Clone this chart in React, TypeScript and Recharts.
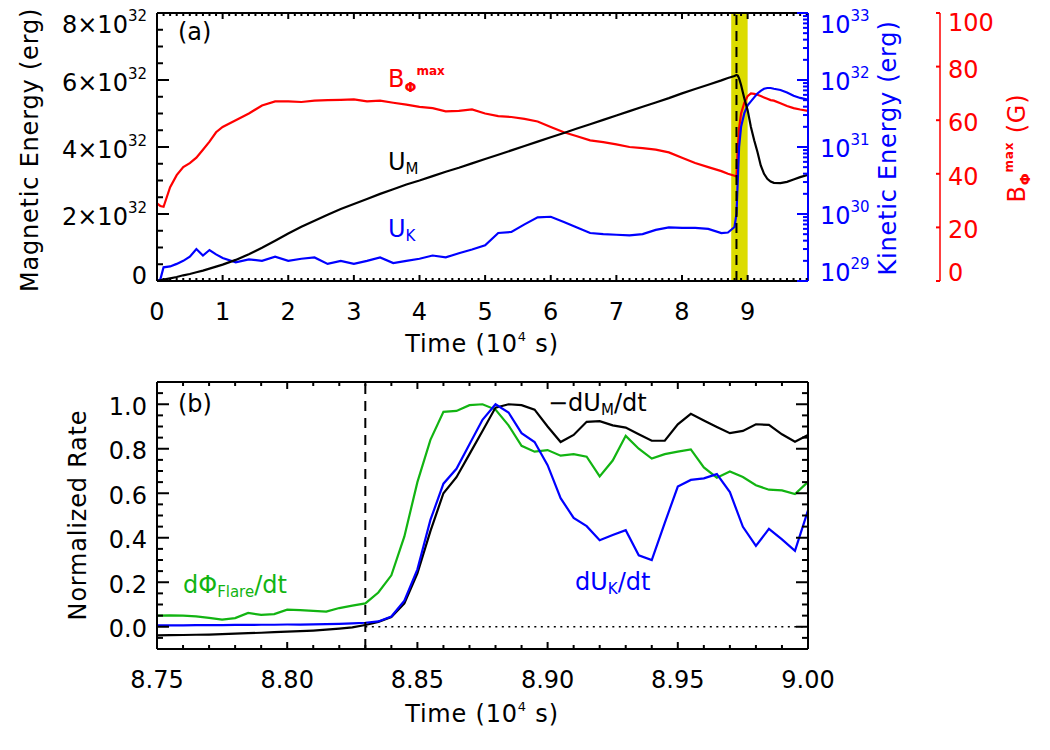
import React from 'react';
import {
  ComposedChart,
  LineChart,
  Line,
  XAxis,
  YAxis,
  ReferenceLine,
  ReferenceArea,
} from 'recharts';

const FONT = '"DejaVu Sans", Verdana, sans-serif';
const FS = 24;
const RED = '#ff0000';
const BLUE = '#0000ff';
const GREEN = '#12b412';
const BAND = '#dcdc00';

// ---------- panel (a): energies over the whole run (time in 10^4 s) ----------
const timeA = [
  0, 0.05, 0.1, 0.2, 0.3, 0.4, 0.5, 0.6, 0.7, 0.8, 0.9, 1.0, 1.2, 1.4, 1.6, 1.8,
  2.0, 2.2, 2.4, 2.6, 2.8, 3.0, 3.2, 3.4, 3.6, 3.8, 4.0, 4.2, 4.4, 4.6, 4.8, 5.0,
  5.2, 5.4, 5.6, 5.8, 6.0, 6.2, 6.4, 6.6, 6.8, 7.0, 7.2, 7.4, 7.6, 7.8, 8.0, 8.2,
  8.4, 8.6, 8.7, 8.8, 8.83, 8.85, 8.87, 8.9, 8.95, 9.0, 9.05, 9.1, 9.15, 9.2,
  9.25, 9.3, 9.35, 9.4, 9.5, 9.6, 9.7, 9.8, 9.92,
];

// magnetic energy U_M in units of 10^32 erg
const magneticEnergy = [
  0, 0.02, 0.04, 0.08, 0.12, 0.17, 0.21, 0.26, 0.31, 0.37, 0.43, 0.49, 0.63, 0.8, 0.99, 1.2,
  1.42, 1.62, 1.8, 1.98, 2.15, 2.3, 2.45, 2.6, 2.74, 2.88, 3.0, 3.13, 3.26, 3.38, 3.51, 3.64,
  3.77, 3.9, 4.03, 4.16, 4.29, 4.42, 4.55, 4.68, 4.81, 4.94, 5.07, 5.2, 5.33, 5.46, 5.6, 5.73,
  5.86, 5.99, 6.06, 6.12, 6.15, 6.13, 6.05, 5.85, 5.45, 5.1, 4.6, 4.2, 3.85, 3.45,
  3.2, 3.05, 2.97, 2.93, 2.92, 2.96, 3.03, 3.1, 3.17,
];

// kinetic energy U_K in erg
const kineticEnergy = [
  1.0e29, 1.05e29, 1.6e29, 1.65e29, 1.8e29, 2.0e29, 2.3e29, 3.0e29, 2.4e29, 2.9e29, 2.5e29, 2.2e29, 1.9e29, 2.1e29, 2.0e29, 2.3e29,
  2.0e29, 2.15e29, 2.25e29, 1.8e29, 2.0e29, 1.8e29, 2.0e29, 2.25e29, 1.85e29, 2.0e29, 2.15e29, 2.4e29, 2.25e29, 2.6e29, 2.95e29, 3.4e29,
  5.2e29, 5.4e29, 7.0e29, 8.9e29, 9.1e29, 7.6e29, 6.3e29, 5.2e29, 5.0e29, 4.9e29, 4.8e29, 5.0e29, 5.8e29, 6.3e29, 6.2e29, 6.2e29,
  6.0e29, 5.2e29, 5.3e29, 6.4e29, 1.0e30, 3.2e30, 1.0e31, 2.0e31, 3.2e31, 4.2e31, 4.8e31, 5.5e31, 6.3e31, 6.9e31,
  7.4e31, 7.6e31, 7.6e31, 7.4e31, 7.1e31, 6.5e31, 5.8e31, 5.4e31, 5.1e31,
];

// peak toroidal field B_phi^max in G
const bPhiMax = [
  29, 28, 27.7, 35, 39.5, 42.5, 44, 46, 49, 52, 55.5, 57.5, 60, 62.5, 65.5, 67,
  67, 66.8, 67.3, 67.5, 67.6, 67.8, 67, 67.3, 66.5, 65.8, 65, 64.5, 63.3, 63.5, 64, 62.5,
  61.5, 61.2, 60.5, 59.5, 57.5, 55.5, 54, 52.5, 51.8, 51, 50, 49.6, 49, 48, 46, 44,
  42.5, 41, 40, 39.3, 39, 50, 57, 62.5, 66.5, 69, 70, 69.8, 69.5, 69,
  68.5, 68, 67.5, 67.3, 66.3, 65.3, 64.5, 64, 63.5,
];

// ---------- panel (b): normalized rates around the flare ----------
const timeB = [
  8.75, 8.755, 8.76, 8.765, 8.77, 8.775, 8.78, 8.785, 8.79, 8.795,
  8.8, 8.805, 8.81, 8.815, 8.82, 8.825, 8.83, 8.835, 8.84, 8.845,
  8.85, 8.855, 8.86, 8.865, 8.87, 8.875, 8.88, 8.885, 8.89, 8.895,
  8.9, 8.905, 8.91, 8.915, 8.92, 8.925, 8.93, 8.935, 8.94, 8.945,
  8.95, 8.955, 8.96, 8.965, 8.97, 8.975, 8.98, 8.985, 8.99, 8.995, 9.0,
];

const fluxRate = [
  0.05, 0.051, 0.05, 0.047, 0.04, 0.032, 0.039, 0.062, 0.053, 0.057,
  0.077, 0.075, 0.071, 0.068, 0.084, 0.095, 0.105, 0.154, 0.231, 0.406,
  0.65, 0.84, 0.966, 0.97, 0.996, 1.0, 0.976, 0.905, 0.813, 0.787,
  0.794, 0.769, 0.776, 0.764, 0.676, 0.747, 0.858, 0.8, 0.756, 0.776,
  0.787, 0.797, 0.716, 0.67, 0.698, 0.673, 0.636, 0.616, 0.613, 0.596, 0.651,
];

const kineticRate = [
  0.006, 0.006, 0.006, 0.007, 0.007, 0.007, 0.008, 0.008, 0.009, 0.009,
  0.01, 0.01, 0.011, 0.012, 0.013, 0.015, 0.018, 0.024, 0.046, 0.117,
  0.258, 0.48, 0.643, 0.71, 0.82, 0.93, 1.0, 0.963, 0.87, 0.83,
  0.726, 0.578, 0.489, 0.452, 0.389, 0.412, 0.434, 0.321, 0.3, 0.467,
  0.63, 0.66, 0.667, 0.686, 0.605, 0.449, 0.363, 0.44, 0.393, 0.341, 0.523,
];

const magneticRate = [
  -0.039, -0.038, -0.037, -0.036, -0.035, -0.033, -0.031, -0.029, -0.027, -0.024,
  -0.022, -0.02, -0.017, -0.013, -0.008, -0.003, 0.008, 0.022, 0.044, 0.105,
  0.24, 0.43, 0.6, 0.672, 0.776, 0.88, 0.985, 1.0, 0.996, 0.976,
  0.9, 0.83, 0.862, 0.921, 0.924, 0.905, 0.895, 0.865, 0.836, 0.836,
  0.91, 0.957, 0.927, 0.898, 0.87, 0.88, 0.91, 0.907, 0.865, 0.832, 0.862,
];

const flareOnset = 8.83;
const zoomStart = 8.75;
const zoomEnd = 9.0;

// axis ranges and tick labels
const timeDomainA: [number, number] = [0, 9.92];
const timeDomainB: [number, number] = [8.75, 9.0];
const magDomain: [number, number] = [0, 8];
const keDomain: [number, number] = [1e29, 1e33];
const bDomain: [number, number] = [0, 100];
const rateDomain: [number, number] = [-0.1, 1.1];
const keExponents = [29, 30, 31, 32, 33];
const bTicks = [0, 20, 40, 60, 80, 100];
const rateLabels = ['0.0', '0.2', '0.4', '0.6', '0.8', '1.0'];
const timeLabelsB = ['8.75', '8.80', '8.85', '8.90', '8.95', '9.00'];

const dataA = timeA.map((t, i) => ({
  t,
  um: magneticEnergy[i],
  uk: kineticEnergy[i],
  b: bPhiMax[i],
}));

const dataB = timeB.map((t, i) => ({
  t,
  flux: fluxRate[i],
  kin: kineticRate[i],
  mag: magneticRate[i],
}));

// tick position helpers
function steps(start: number, stop: number, step: number): number[] {
  const out: number[] = [];
  const n = Math.round((stop - start) / step);
  for (let i = 0; i <= n; i++) out.push(+(start + i * step).toFixed(6));
  return out;
}
const onGrid = (v: number, every: number, origin = 0) => {
  const q = (v - origin) / every;
  return Math.abs(q - Math.round(q)) < 1e-6;
};

const timeTicksA = steps(0, 9.9, 0.1);
const magTicks = steps(0, 8, 0.5);
const keTicks: number[] = [];
keExponents.forEach((e) => {
  if (e === 33) {
    keTicks.push(1e33);
    return;
  }
  for (let m = 1; m <= 9; m++) keTicks.push(+(m * Math.pow(10, e)).toPrecision(3));
});
const timeTicksB = steps(8.75, 9.0, 0.01);
const rateTicks = steps(-0.05, 1.05, 0.05);

const txt = (color = '#000') => ({ fontFamily: FONT, fontSize: FS, fill: color });
const title = (color = '#000') => ({ ...txt(color), letterSpacing: 0.8 });

// short inward tick mark
const mark = (x1: number, y1: number, x2: number, y2: number, color = '#000') => (
  <path d={`M${x1},${y1}L${x2},${y2}`} stroke={color} strokeWidth={2} fill="none" />
);

// ---------- tick renderers (IDL-style inward ticks) ----------
function MagTick(props: any) {
  const x = Number(props.x);
  const y = Number(props.y);
  const v = Number(props.payload.value);
  const major = onGrid(v, 2);
  const shift = v >= magDomain[1] ? 19.5 : v <= magDomain[0] ? 2.5 : 11;
  return (
    <g>
      {mark(x, y, x + (major ? 12 : 6), y)}
      {major && (
        <text x={x - 10} y={y + shift} textAnchor="end" {...txt()}>
          {v === 0 ? (
            '0'
          ) : (
            <>
              {`${v}×10`}
              <tspan dy={-12} fontSize={15}>32</tspan>
            </>
          )}
        </text>
      )}
    </g>
  );
}

function KeTick(props: any) {
  const x = Number(props.x);
  const y = Number(props.y);
  const v = Number(props.payload.value);
  const e = Math.log10(v);
  const major = Math.abs(e - Math.round(e)) < 1e-6;
  const exp = Math.round(e);
  const shift = exp >= 33 ? 19.5 : exp <= 29 ? 0 : 9.5;
  return (
    <g>
      {mark(x, y, x - (major ? 11 : 5), y, BLUE)}
      {major && (
        <text x={x + 12} y={y + shift} textAnchor="start" {...txt(BLUE)}>
          10
          <tspan dy={-12} fontSize={15}>{exp}</tspan>
        </text>
      )}
    </g>
  );
}

function BTick(props: any) {
  const x = Number(props.x);
  const y = Number(props.y);
  const v = Number(props.payload.value);
  const shift = v >= bDomain[1] ? 17.5 : v <= bDomain[0] ? 0 : 11;
  return (
    <g>
      {mark(x, y, x - 4, y, RED)}
      <text x={x + 8} y={y + shift} textAnchor="start" {...txt(RED)}>
        {String(v)}
      </text>
    </g>
  );
}

function TimeTickA(props: any) {
  const x = Number(props.x);
  const y = Number(props.y);
  const v = Number(props.payload.value);
  const major = onGrid(v, 1);
  return (
    <g>
      {mark(x, y, x, y - (major ? 6 : 3))}
      {major && (
        <text x={x} y={y + 39} textAnchor="middle" {...txt()}>
          {String(Math.round(v))}
        </text>
      )}
    </g>
  );
}

function TopTickA(props: any) {
  const x = Number(props.x);
  const y = Number(props.y);
  const major = onGrid(Number(props.payload.value), 1);
  return <g>{mark(x, y, x, y + (major ? 6 : 3))}</g>;
}

function RateTick(props: any) {
  const x = Number(props.x);
  const y = Number(props.y);
  const v = Number(props.payload.value);
  const major = onGrid(v, 0.2);
  const idx = Math.round(v / 0.2);
  return (
    <g>
      {mark(x, y, x + (major ? 12 : 6), y)}
      {major && idx >= 0 && idx < rateLabels.length && (
        <text x={x - 10} y={y + 10.5} textAnchor="end" {...txt()}>
          {rateLabels[idx]}
        </text>
      )}
    </g>
  );
}

function RateMirrorTick(props: any) {
  const x = Number(props.x);
  const y = Number(props.y);
  const major = onGrid(Number(props.payload.value), 0.2);
  return <g>{mark(x, y, x - (major ? 12 : 6), y)}</g>;
}

function TimeTickB(props: any) {
  const x = Number(props.x);
  const y = Number(props.y);
  const v = Number(props.payload.value);
  const major = onGrid(v, 0.05, 8.75);
  const idx = Math.round((v - 8.75) / 0.05);
  return (
    <g>
      {mark(x, y, x, y - (major ? 7 : 4))}
      {major && (
        <text x={x} y={y + 39} textAnchor="middle" {...txt()}>
          {timeLabelsB[idx]}
        </text>
      )}
    </g>
  );
}

function TopTickB(props: any) {
  const x = Number(props.x);
  const y = Number(props.y);
  const major = onGrid(Number(props.payload.value), 0.05, 8.75);
  return <g>{mark(x, y, x, y + (major ? 7 : 4))}</g>;
}

const frame = { stroke: '#000', strokeWidth: 2 };

function PanelA() {
  return (
    <ComposedChart
      width={1050}
      height={360}
      data={dataA}
      margin={{ top: 12, right: 0, bottom: 0, left: 0 }}
    >
      <XAxis
        dataKey="t"
        type="number"
        domain={timeDomainA}
        allowDataOverflow
        ticks={timeTicksA}
        interval={0}
        height={79}
        tickSize={0}
        tickMargin={0}
        tickLine={false}
        axisLine={frame}
        tick={TimeTickA}
      />
      <XAxis
        xAxisId="top"
        dataKey="t"
        orientation="top"
        type="number"
        domain={timeDomainA}
        allowDataOverflow
        ticks={timeTicksA}
        interval={0}
        height={1}
        tickSize={0}
        tickMargin={0}
        tickLine={false}
        axisLine={frame}
        tick={TopTickA}
      />
      <YAxis
        yAxisId="mag"
        orientation="left"
        type="number"
        domain={magDomain}
        allowDataOverflow
        ticks={magTicks}
        interval={0}
        width={157}
        tickSize={0}
        tickMargin={0}
        tickLine={false}
        axisLine={frame}
        tick={MagTick}
      />
      <YAxis
        yAxisId="r1"
        orientation="right"
        type="number"
        scale="log"
        domain={keDomain}
        allowDataOverflow
        ticks={keTicks}
        interval={0}
        width={132}
        tickSize={0}
        tickMargin={0}
        tickLine={false}
        axisLine={{ stroke: BLUE, strokeWidth: 2 }}
        tick={KeTick}
      />
      <YAxis
        yAxisId="r2"
        orientation="right"
        type="number"
        domain={bDomain}
        allowDataOverflow
        ticks={bTicks}
        interval={0}
        width={110}
        tickSize={0}
        tickMargin={0}
        tickLine={false}
        axisLine={{ stroke: RED, strokeWidth: 1.5 }}
        tick={BTick}
      />
      <ReferenceArea
        yAxisId="mag"
        x1={zoomStart}
        x2={zoomEnd}
        fill={BAND}
        fillOpacity={1}
        stroke="none"
      />
      <Line yAxisId="r2" dataKey="b" stroke={RED} strokeWidth={2.2} dot={false} isAnimationActive={false} />
      <Line yAxisId="r1" dataKey="uk" stroke={BLUE} strokeWidth={2.2} dot={false} isAnimationActive={false} />
      <Line yAxisId="mag" dataKey="um" stroke="#000" strokeWidth={2.2} dot={false} isAnimationActive={false} />
      {/* carries the mirrored top axis; drawn invisibly under U_M */}
      <Line
        xAxisId="top"
        yAxisId="mag"
        dataKey="um"
        stroke="#000"
        strokeOpacity={0}
        dot={false}
        activeDot={false}
        isAnimationActive={false}
      />
      <ReferenceLine
        yAxisId="mag"
        x={flareOnset}
        stroke="#000"
        strokeWidth={2}
        strokeDasharray="10 6"
      />
    </ComposedChart>
  );
}

function PanelB() {
  return (
    <LineChart
      width={1050}
      height={390}
      data={dataB}
      margin={{ top: 21, right: 0, bottom: 0, left: 0 }}
    >
      <XAxis
        dataKey="t"
        type="number"
        domain={timeDomainB}
        allowDataOverflow
        ticks={timeTicksB}
        interval={0}
        height={101}
        tickSize={0}
        tickMargin={0}
        tickLine={false}
        axisLine={frame}
        tick={TimeTickB}
      />
      <XAxis
        xAxisId="top"
        dataKey="t"
        orientation="top"
        type="number"
        domain={timeDomainB}
        allowDataOverflow
        ticks={timeTicksB}
        interval={0}
        height={1}
        tickSize={0}
        tickMargin={0}
        tickLine={false}
        axisLine={frame}
        tick={TopTickB}
      />
      <YAxis
        type="number"
        domain={rateDomain}
        allowDataOverflow
        ticks={rateTicks}
        interval={0}
        width={157}
        tickSize={0}
        tickMargin={0}
        tickLine={false}
        axisLine={frame}
        tick={RateTick}
      />
      <YAxis
        yAxisId="mirror"
        orientation="right"
        type="number"
        domain={rateDomain}
        allowDataOverflow
        ticks={rateTicks}
        interval={0}
        width={242}
        tickSize={0}
        tickMargin={0}
        tickLine={false}
        axisLine={frame}
        tick={RateMirrorTick}
      />
      <ReferenceLine
        segment={[
          { x: flareOnset, y: 0 },
          { x: zoomEnd, y: 0 },
        ]}
        stroke="#000"
        strokeWidth={1.5}
        strokeDasharray="2 4.5"
      />
      <Line dataKey="flux" stroke={GREEN} strokeWidth={2.2} dot={false} isAnimationActive={false} />
      <Line dataKey="mag" stroke="#000" strokeWidth={2.2} dot={false} isAnimationActive={false} />
      <Line dataKey="kin" stroke={BLUE} strokeWidth={2.2} dot={false} isAnimationActive={false} />
      {/* carries the mirrored top and right axes; drawn invisibly */}
      <Line
        xAxisId="top"
        yAxisId="mirror"
        dataKey="mag"
        stroke="#000"
        strokeOpacity={0}
        dot={false}
        activeDot={false}
        isAnimationActive={false}
      />
      <ReferenceLine x={flareOnset} stroke="#000" strokeWidth={2} strokeDasharray="10 7" />
    </LineChart>
  );
}

function Annotations() {
  return (
    <svg
      width={1050}
      height={750}
      style={{ position: 'absolute', left: 0, top: 0, pointerEvents: 'none' }}
    >
      {/* panel (a) */}
      <text x={178} y={40} {...txt()}>(a)</text>
      <text x={388} y={87} {...txt(RED)}>
        B
        <tspan dy={5} fontSize={14} fontWeight="bold">Φ</tspan>
        <tspan dy={-17} fontSize={12} fontWeight="bold">max</tspan>
      </text>
      <text x={388} y={170} {...txt()}>
        U<tspan dy={4} fontSize={15}>M</tspan>
      </text>
      <text x={388} y={237} {...txt(BLUE)}>
        U<tspan dy={4} fontSize={15}>K</tspan>
      </text>
      <text x={38} y={150} textAnchor="middle" transform="rotate(-90 38 150)" {...title()}>
        Magnetic  Energy  (erg)
      </text>
      <text x={896} y={148} textAnchor="middle" transform="rotate(-90 896 148)" {...title(BLUE)}>
        Kinetic  Energy  (erg)
      </text>
      <text x={1025} y={148} textAnchor="middle" transform="rotate(-90 1025 148)" {...title(RED)}>
        B
        <tspan dy={5} fontSize={14} fontWeight="bold">Φ</tspan>
        <tspan dy={-17} fontSize={12} fontWeight="bold">max</tspan>
        <tspan dy={12}>{'  (G)'}</tspan>
      </text>
      <text x={482} y={352} textAnchor="middle" {...title()}>
        Time  (10<tspan dy={-11} fontSize={13}>4</tspan>
        <tspan dy={11}> s)</tspan>
      </text>

      {/* panel (b) */}
      <text x={178} y={412} {...txt()}>(b)</text>
      <text x={548} y={411} {...txt()}>
        −dU<tspan dy={4} fontSize={15}>M</tspan>
        <tspan dy={-4}>/dt</tspan>
      </text>
      <text x={575} y={590} {...txt(BLUE)}>
        dU<tspan dy={4} fontSize={15}>K</tspan>
        <tspan dy={-4}>/dt</tspan>
      </text>
      <text x={183} y={593} {...txt(GREEN)}>
        dΦ<tspan dy={4} fontSize={15}>Flare</tspan>
        <tspan dy={-4}>/dt</tspan>
      </text>
      <text x={86} y={515} textAnchor="middle" transform="rotate(-90 86 515)" {...title()}>
        Normalized  Rate
      </text>
      <text x={482} y={722} textAnchor="middle" {...title()}>
        Time  (10<tspan dy={-11} fontSize={13}>4</tspan>
        <tspan dy={11}> s)</tspan>
      </text>
    </svg>
  );
}

export default function App() {
  return (
    <div
      style={{
        position: 'absolute',
        left: 0,
        top: 0,
        width: 1050,
        height: 750,
        background: '#fff',
        overflow: 'hidden',
      }}
    >
      <div style={{ position: 'absolute', left: 0, top: 0 }}>
        <PanelA />
      </div>
      <div style={{ position: 'absolute', left: 0, top: 360 }}>
        <PanelB />
      </div>
      <Annotations />
    </div>
  );
}
